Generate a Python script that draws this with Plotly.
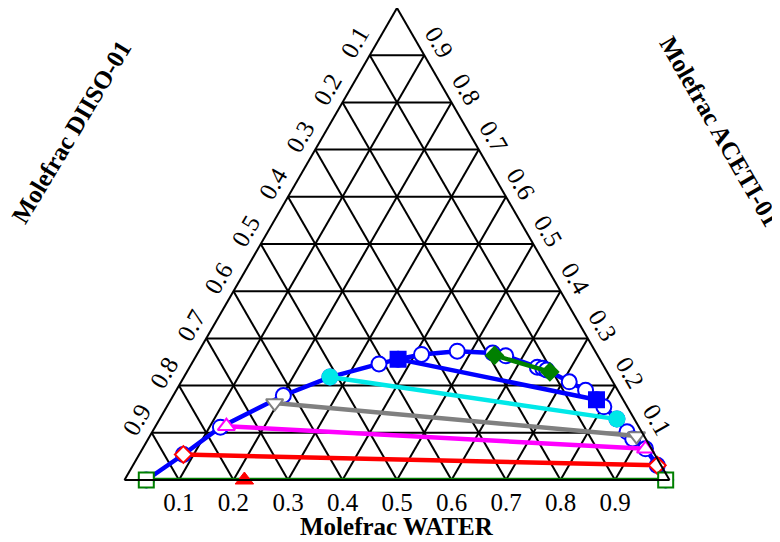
import plotly.graph_objects as go

# Ternary components: a = ACETI-01 (top), b = DIISO-01 (bottom-left), c = WATER (bottom-right)
# Binodal curve (blue, open circles)
bin_aceti = [0.000, 0.054, 0.112, 0.179, 0.218, 0.246, 0.256, 0.266, 0.273, 0.269, 0.263, 0.239,
             0.237, 0.233, 0.208, 0.190, 0.170, 0.155, 0.129, 0.102, 0.087, 0.066, 0.031, 0.000]
bin_water = [0.040, 0.081, 0.120, 0.202, 0.268, 0.344, 0.374, 0.412, 0.474, 0.541, 0.568, 0.638,
             0.649, 0.658, 0.712, 0.751, 0.781, 0.802, 0.839, 0.871, 0.889, 0.923, 0.962, 0.993]
bin_diiso = [0.960, 0.865, 0.768, 0.619, 0.514, 0.410, 0.370, 0.322, 0.253, 0.190, 0.169, 0.123,
             0.114, 0.109, 0.080, 0.059, 0.049, 0.043, 0.032, 0.027, 0.024, 0.011, 0.007, 0.007]

# Tie lines: [aceti pair], [diiso pair], [water pair]
tie_green_aceti = [0.000, 0.000]
tie_green_diiso = [0.960, 0.007]
tie_green_water = [0.040, 0.993]

tie_red_aceti = [0.054, 0.031]
tie_red_diiso = [0.865, 0.007]
tie_red_water = [0.081, 0.962]

tie_magenta_aceti = [0.114, 0.066]
tie_magenta_diiso = [0.756, 0.011]
tie_magenta_water = [0.130, 0.923]

tie_grey_aceti = [0.163, 0.093]
tie_grey_diiso = [0.643, 0.014]
tie_grey_water = [0.194, 0.893]

tie_cyan_aceti = [0.218, 0.129]
tie_cyan_diiso = [0.514, 0.032]
tie_cyan_water = [0.268, 0.839]

tie_blue_aceti = [0.256, 0.170]
tie_blue_diiso = [0.370, 0.049]
tie_blue_water = [0.374, 0.781]

tie_dgreen_aceti = [0.264, 0.229]
tie_dgreen_diiso = [0.189, 0.105]
tie_dgreen_water = [0.547, 0.666]

feed_aceti = [0.000]
feed_diiso = [0.780]
feed_water = [0.220]

tick_vals = [0.1, 0.2, 0.3, 0.4, 0.5, 0.6, 0.7, 0.8, 0.9]
tick_text_rev = ["0.9", "0.8", "0.7", "0.6", "0.5", "0.4", "0.3", "0.2", "0.1"]

fig = go.Figure()

fig.add_trace(go.Scatterternary(
    a=bin_aceti, b=bin_diiso, c=bin_water, mode="lines+markers", cliponaxis=False,
    line=dict(color="#0000FF", width=4.5),
    marker=dict(symbol="circle", size=15, color="white", line=dict(color="#0000FF", width=2)),
))

def tie(a, b, c, color, symbol, size, filled):
    fig.add_trace(go.Scatterternary(
        a=a, b=b, c=c, mode="lines+markers", cliponaxis=False,
        line=dict(color=color, width=4.5),
        marker=dict(symbol=symbol, size=size, color=color if filled else "white",
                    line=dict(color=color, width=2)),
    ))

tie(tie_dgreen_aceti, tie_dgreen_diiso, tie_dgreen_water, "#008000", "diamond", 13, True)
tie(tie_blue_aceti, tie_blue_diiso, tie_blue_water, "#0000FF", "square", 15, True)
tie(tie_cyan_aceti, tie_cyan_diiso, tie_cyan_water, "#00E8E8", "circle", 15, True)
tie(tie_grey_aceti, tie_grey_diiso, tie_grey_water, "#808080", "triangle-down", 15, False)
tie(tie_magenta_aceti, tie_magenta_diiso, tie_magenta_water, "#FF00FF", "triangle-up", 15, False)
tie(tie_red_aceti, tie_red_diiso, tie_red_water, "#FF0000", "diamond", 13, False)
tie(tie_green_aceti, tie_green_diiso, tie_green_water, "#008000", "square", 15, False)

fig.add_trace(go.Scatterternary(
    a=feed_aceti, b=feed_diiso, c=feed_water, mode="markers", cliponaxis=False,
    marker=dict(symbol="triangle-up", size=16, color="#FF0000", line=dict(color="#FF0000", width=1)),
))

tickfont = dict(family="Liberation Serif", size=25, color="black")
axis_common = dict(
    tickmode="array", tickvals=tick_vals, ticktext=tick_text_rev,
    showgrid=True, gridcolor="black", gridwidth=1.8,
    showline=True, linecolor="black", linewidth=2,
    ticks="", tickfont=tickfont, min=0, title=dict(text=""),
)

# page offset of the figure inside the browser page (body margin)
OFF = 8
ML, MT, PW, PH = 116, 0, 546, 472
W, H = 780, 542

fig.update_layout(
    width=W, height=H,
    margin=dict(l=ML, r=W - ML - PW, t=MT, b=H - MT - PH),
    paper_bgcolor="white",
    showlegend=False,
    ternary=dict(
        sum=1,
        bgcolor="white",
        domain=dict(x=[0, 1], y=[0, 1]),
        aaxis=dict(axis_common, tickangle=-60),
        baxis=dict(axis_common, tickangle=0),
        caxis=dict(axis_common, tickangle=60),
    ),
)

titles = [
    ("<b>Molefrac WATER</b>", 397, 526, 0),
    ("<b>Molefrac DIISO-01</b>", 72, 132, -59),
    ("<b>Molefrac ACETI-01</b>", 720, 131, 60),
]
for text, px, py, ang in titles:
    fig.add_annotation(
        text=text, xref="paper", yref="paper",
        x=(px - OFF - ML) / PW, y=1 - (py - OFF - MT) / PH,
        xanchor="center", yanchor="middle", showarrow=False, textangle=ang,
        font=dict(family="Liberation Serif", size=25, color="black"),
    )

fig.write_html("out.html")
